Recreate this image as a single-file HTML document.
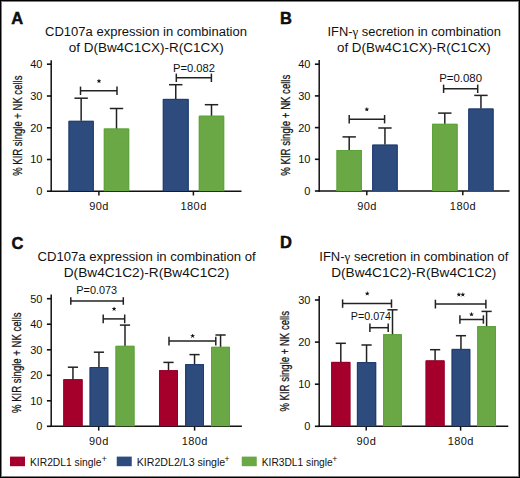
<!DOCTYPE html><html><head><meta charset="utf-8"><style>html,body{margin:0;padding:0;background:#fff}svg{display:block}text{font-family:"Liberation Sans", sans-serif;fill:#111}</style></head><body>
<svg width="520" height="478" viewBox="0 0 520 478">
<rect x="0" y="0" width="520" height="478" fill="#fff"/>
<text x="11.2" y="24.3" font-size="16.5" text-anchor="start" font-weight="bold" stroke="#000" stroke-width="0.45">A</text>
<text x="280" y="24.3" font-size="16.5" text-anchor="start" font-weight="bold" stroke="#000" stroke-width="0.45">B</text>
<text x="11.5" y="248.6" font-size="16.5" text-anchor="start" font-weight="bold" stroke="#000" stroke-width="0.45">C</text>
<text x="280" y="248.1" font-size="16.5" text-anchor="start" font-weight="bold" stroke="#000" stroke-width="0.45">D</text>
<text x="146" y="35.8" font-size="12.5" text-anchor="middle" font-weight="normal" textLength="202" lengthAdjust="spacingAndGlyphs">CD107a expression in combination</text>
<text x="146.2" y="51.8" font-size="12.5" text-anchor="middle" font-weight="normal" textLength="155" lengthAdjust="spacingAndGlyphs">of D(Bw4C1CX)-R(C1CX)</text>
<text x="414.2" y="35.8" font-size="12.5" text-anchor="middle" font-weight="normal" textLength="173.5" lengthAdjust="spacingAndGlyphs">IFN-<tspan font-family="Liberation Serif">γ</tspan> secretion in combination</text>
<text x="413.9" y="51.8" font-size="12.5" text-anchor="middle" font-weight="normal" textLength="153.8" lengthAdjust="spacingAndGlyphs">of D(Bw4C1CX)-R(C1CX)</text>
<text x="146.6" y="260.5" font-size="12.5" text-anchor="middle" font-weight="normal" textLength="218.3" lengthAdjust="spacingAndGlyphs">CD107a expression in combination of</text>
<text x="146.5" y="276.6" font-size="12.5" text-anchor="middle" font-weight="normal" textLength="165.5" lengthAdjust="spacingAndGlyphs">D(Bw4C1C2)-R(Bw4C1C2)</text>
<text x="413.8" y="260.5" font-size="12.5" text-anchor="middle" font-weight="normal" textLength="189" lengthAdjust="spacingAndGlyphs">IFN-<tspan font-family="Liberation Serif">γ</tspan> secretion in combination of</text>
<text x="413.8" y="276.6" font-size="12.5" text-anchor="middle" font-weight="normal" textLength="165.2" lengthAdjust="spacingAndGlyphs">D(Bw4C1C2)-R(Bw4C1C2)</text>
<line x1="51.2" y1="60.3" x2="51.2" y2="191.95" stroke="#111" stroke-width="1.5"/>
<line x1="50.45" y1="191.2" x2="241.5" y2="191.2" stroke="#111" stroke-width="1.5"/>
<line x1="46.900000000000006" y1="64.2" x2="51.2" y2="64.2" stroke="#111" stroke-width="1.6"/>
<text x="42.4" y="68.10000000000001" font-size="11" text-anchor="end" font-weight="normal">40</text>
<line x1="46.900000000000006" y1="96.0" x2="51.2" y2="96.0" stroke="#111" stroke-width="1.6"/>
<text x="42.4" y="99.9" font-size="11" text-anchor="end" font-weight="normal">30</text>
<line x1="46.900000000000006" y1="127.8" x2="51.2" y2="127.8" stroke="#111" stroke-width="1.6"/>
<text x="42.4" y="131.7" font-size="11" text-anchor="end" font-weight="normal">20</text>
<line x1="46.900000000000006" y1="159.5" x2="51.2" y2="159.5" stroke="#111" stroke-width="1.6"/>
<text x="42.4" y="163.4" font-size="11" text-anchor="end" font-weight="normal">10</text>
<line x1="46.900000000000006" y1="191.2" x2="51.2" y2="191.2" stroke="#111" stroke-width="1.6"/>
<text x="42.4" y="195.1" font-size="11" text-anchor="end" font-weight="normal">0</text>
<line x1="98.9" y1="191.2" x2="98.9" y2="195.5" stroke="#111" stroke-width="1.5"/>
<text x="99.10000000000001" y="209.8" font-size="11" text-anchor="middle" font-weight="normal" letter-spacing="0.45">90d</text>
<line x1="193.4" y1="191.2" x2="193.4" y2="195.5" stroke="#111" stroke-width="1.5"/>
<text x="193.6" y="209.8" font-size="11" text-anchor="middle" font-weight="normal" letter-spacing="0.45">180d</text>
<text transform="translate(21.6,125.7) rotate(-90)" x="0" y="0" font-size="12.4" text-anchor="middle" stroke="#111" stroke-width="0.25" textLength="100.2" lengthAdjust="spacingAndGlyphs">% KIR single + NK cells</text>
<rect x="68.5" y="120.8" width="25.30" height="70.40" fill="#2d4b7c"/>
<path d="M69.00 191.20V121.30H93.30V191.20" fill="none" stroke="#1f3c70" stroke-width="1"/>
<rect x="103.8" y="128.5" width="25.40" height="62.70" fill="#69a844"/>
<path d="M104.30 191.20V129.00H128.70V191.20" fill="none" stroke="#5ea23a" stroke-width="1"/>
<rect x="162.8" y="98.9" width="25.90" height="92.30" fill="#2d4b7c"/>
<path d="M163.30 191.20V99.40H188.20V191.20" fill="none" stroke="#1f3c70" stroke-width="1"/>
<rect x="198.8" y="115.7" width="25.40" height="75.50" fill="#69a844"/>
<path d="M199.30 191.20V116.20H223.70V191.20" fill="none" stroke="#5ea23a" stroke-width="1"/>
<line x1="81.15" y1="98.2" x2="81.15" y2="120.8" stroke="#222" stroke-width="1.5"/>
<line x1="74.45" y1="98.2" x2="87.85000000000001" y2="98.2" stroke="#222" stroke-width="1.5"/>
<line x1="116.5" y1="108.5" x2="116.5" y2="128.5" stroke="#222" stroke-width="1.5"/>
<line x1="109.8" y1="108.5" x2="123.2" y2="108.5" stroke="#222" stroke-width="1.5"/>
<line x1="175.75" y1="84.7" x2="175.75" y2="98.9" stroke="#222" stroke-width="1.5"/>
<line x1="169.05" y1="84.7" x2="182.45" y2="84.7" stroke="#222" stroke-width="1.5"/>
<line x1="211.5" y1="104.7" x2="211.5" y2="115.7" stroke="#222" stroke-width="1.5"/>
<line x1="204.8" y1="104.7" x2="218.2" y2="104.7" stroke="#222" stroke-width="1.5"/>
<line x1="80.5" y1="90.8" x2="117" y2="90.8" stroke="#222" stroke-width="1.5"/>
<line x1="80.5" y1="86.6" x2="80.5" y2="95.0" stroke="#222" stroke-width="1.5"/>
<line x1="117" y1="86.6" x2="117" y2="95.0" stroke="#222" stroke-width="1.5"/>
<path d="M99.00 81.20L99.00 79.60M99.00 81.20L100.52 80.71M99.00 81.20L99.94 82.49M99.00 81.20L98.06 82.49M99.00 81.20L97.48 80.71" stroke="#111" stroke-width="0.9" stroke-linecap="round" fill="none"/>
<circle cx="99.0" cy="81.19999999999999" r="1.0" fill="#111"/>
<line x1="176.3" y1="77.8" x2="211.4" y2="77.8" stroke="#222" stroke-width="1.5"/>
<line x1="176.3" y1="73.6" x2="176.3" y2="82.0" stroke="#222" stroke-width="1.5"/>
<line x1="211.4" y1="73.6" x2="211.4" y2="82.0" stroke="#222" stroke-width="1.5"/>
<text x="194" y="71.5" font-size="10.6" text-anchor="middle" font-weight="normal" textLength="41.9" lengthAdjust="spacingAndGlyphs">P=0.082</text>
<line x1="319.2" y1="60.0" x2="319.2" y2="191.75" stroke="#111" stroke-width="1.5"/>
<line x1="318.45" y1="191.0" x2="509.5" y2="191.0" stroke="#111" stroke-width="1.5"/>
<line x1="314.9" y1="64.2" x2="319.2" y2="64.2" stroke="#111" stroke-width="1.6"/>
<text x="310.4" y="68.10000000000001" font-size="11" text-anchor="end" font-weight="normal">40</text>
<line x1="314.9" y1="95.9" x2="319.2" y2="95.9" stroke="#111" stroke-width="1.6"/>
<text x="310.4" y="99.80000000000001" font-size="11" text-anchor="end" font-weight="normal">30</text>
<line x1="314.9" y1="127.6" x2="319.2" y2="127.6" stroke="#111" stroke-width="1.6"/>
<text x="310.4" y="131.5" font-size="11" text-anchor="end" font-weight="normal">20</text>
<line x1="314.9" y1="159.3" x2="319.2" y2="159.3" stroke="#111" stroke-width="1.6"/>
<text x="310.4" y="163.20000000000002" font-size="11" text-anchor="end" font-weight="normal">10</text>
<line x1="314.9" y1="191.0" x2="319.2" y2="191.0" stroke="#111" stroke-width="1.6"/>
<text x="310.4" y="194.9" font-size="11" text-anchor="end" font-weight="normal">0</text>
<line x1="366.8" y1="191.0" x2="366.8" y2="195.3" stroke="#111" stroke-width="1.5"/>
<text x="367.0" y="209.8" font-size="11" text-anchor="middle" font-weight="normal" letter-spacing="0.45">90d</text>
<line x1="462.8" y1="191.0" x2="462.8" y2="195.3" stroke="#111" stroke-width="1.5"/>
<text x="463.0" y="209.8" font-size="11" text-anchor="middle" font-weight="normal" letter-spacing="0.45">180d</text>
<text transform="translate(289.6,125.2) rotate(-90)" x="0" y="0" font-size="12.4" text-anchor="middle" stroke="#111" stroke-width="0.25" textLength="101" lengthAdjust="spacingAndGlyphs">% KIR single + NK cells</text>
<rect x="336.5" y="150" width="25.40" height="41.00" fill="#69a844"/>
<path d="M337.00 191.00V150.50H361.40V191.00" fill="none" stroke="#5ea23a" stroke-width="1"/>
<rect x="372.2" y="144.6" width="25.50" height="46.40" fill="#2d4b7c"/>
<path d="M372.70 191.00V145.10H397.20V191.00" fill="none" stroke="#1f3c70" stroke-width="1"/>
<rect x="432" y="123.8" width="25.60" height="67.20" fill="#69a844"/>
<path d="M432.50 191.00V124.30H457.10V191.00" fill="none" stroke="#5ea23a" stroke-width="1"/>
<rect x="468.3" y="108.5" width="25.30" height="82.50" fill="#2d4b7c"/>
<path d="M468.80 191.00V109.00H493.10V191.00" fill="none" stroke="#1f3c70" stroke-width="1"/>
<line x1="349.2" y1="136.9" x2="349.2" y2="150" stroke="#222" stroke-width="1.5"/>
<line x1="342.5" y1="136.9" x2="355.9" y2="136.9" stroke="#222" stroke-width="1.5"/>
<line x1="384.95" y1="128" x2="384.95" y2="144.6" stroke="#222" stroke-width="1.5"/>
<line x1="378.25" y1="128" x2="391.65" y2="128" stroke="#222" stroke-width="1.5"/>
<line x1="444.8" y1="113.1" x2="444.8" y2="123.8" stroke="#222" stroke-width="1.5"/>
<line x1="438.1" y1="113.1" x2="451.5" y2="113.1" stroke="#222" stroke-width="1.5"/>
<line x1="480.95" y1="95.4" x2="480.95" y2="108.5" stroke="#222" stroke-width="1.5"/>
<line x1="474.25" y1="95.4" x2="487.65" y2="95.4" stroke="#222" stroke-width="1.5"/>
<line x1="349.2" y1="119.2" x2="384.6" y2="119.2" stroke="#222" stroke-width="1.5"/>
<line x1="349.2" y1="115.0" x2="349.2" y2="123.4" stroke="#222" stroke-width="1.5"/>
<line x1="384.6" y1="115.0" x2="384.6" y2="123.4" stroke="#222" stroke-width="1.5"/>
<path d="M366.80 109.45L366.80 107.85M366.80 109.45L368.32 108.96M366.80 109.45L367.74 110.74M366.80 109.45L365.86 110.74M366.80 109.45L365.28 108.96" stroke="#111" stroke-width="0.9" stroke-linecap="round" fill="none"/>
<circle cx="366.8" cy="109.44999999999999" r="1.0" fill="#111"/>
<line x1="443.6" y1="88.8" x2="477.7" y2="88.8" stroke="#222" stroke-width="1.5"/>
<line x1="443.6" y1="84.6" x2="443.6" y2="93.0" stroke="#222" stroke-width="1.5"/>
<line x1="477.7" y1="84.6" x2="477.7" y2="93.0" stroke="#222" stroke-width="1.5"/>
<text x="460.6" y="81.5" font-size="10.6" text-anchor="middle" font-weight="normal" textLength="42.8" lengthAdjust="spacingAndGlyphs">P=0.080</text>
<line x1="51.2" y1="294.6" x2="51.2" y2="427.05" stroke="#111" stroke-width="1.5"/>
<line x1="50.45" y1="426.3" x2="241.9" y2="426.3" stroke="#111" stroke-width="1.5"/>
<line x1="46.900000000000006" y1="298.7" x2="51.2" y2="298.7" stroke="#111" stroke-width="1.6"/>
<text x="42.4" y="302.59999999999997" font-size="11" text-anchor="end" font-weight="normal">50</text>
<line x1="46.900000000000006" y1="324.2" x2="51.2" y2="324.2" stroke="#111" stroke-width="1.6"/>
<text x="42.4" y="328.09999999999997" font-size="11" text-anchor="end" font-weight="normal">40</text>
<line x1="46.900000000000006" y1="349.8" x2="51.2" y2="349.8" stroke="#111" stroke-width="1.6"/>
<text x="42.4" y="353.7" font-size="11" text-anchor="end" font-weight="normal">30</text>
<line x1="46.900000000000006" y1="375.3" x2="51.2" y2="375.3" stroke="#111" stroke-width="1.6"/>
<text x="42.4" y="379.2" font-size="11" text-anchor="end" font-weight="normal">20</text>
<line x1="46.900000000000006" y1="400.8" x2="51.2" y2="400.8" stroke="#111" stroke-width="1.6"/>
<text x="42.4" y="404.7" font-size="11" text-anchor="end" font-weight="normal">10</text>
<line x1="46.900000000000006" y1="426.3" x2="51.2" y2="426.3" stroke="#111" stroke-width="1.6"/>
<text x="42.4" y="430.2" font-size="11" text-anchor="end" font-weight="normal">0</text>
<line x1="98.7" y1="426.3" x2="98.7" y2="430.6" stroke="#111" stroke-width="1.5"/>
<text x="98.9" y="444.6" font-size="11" text-anchor="middle" font-weight="normal" letter-spacing="0.45">90d</text>
<line x1="194.6" y1="426.3" x2="194.6" y2="430.6" stroke="#111" stroke-width="1.5"/>
<text x="194.79999999999998" y="444.6" font-size="11" text-anchor="middle" font-weight="normal" letter-spacing="0.45">180d</text>
<text transform="translate(21.3,362.7) rotate(-90)" x="0" y="0" font-size="12.4" text-anchor="middle" stroke="#111" stroke-width="0.25" textLength="100.6" lengthAdjust="spacingAndGlyphs">% KIR single + NK cells</text>
<rect x="63.3" y="379.2" width="19.30" height="47.10" fill="#a5002c"/>
<path d="M63.80 426.30V379.70H82.10V426.30" fill="none" stroke="#96002a" stroke-width="1"/>
<rect x="89.6" y="367.0" width="18.70" height="59.30" fill="#2d4b7c"/>
<path d="M90.10 426.30V367.50H107.80V426.30" fill="none" stroke="#1f3c70" stroke-width="1"/>
<rect x="115.5" y="345.8" width="19.00" height="80.50" fill="#69a844"/>
<path d="M116.00 426.30V346.30H134.00V426.30" fill="none" stroke="#5ea23a" stroke-width="1"/>
<rect x="159" y="370.2" width="19.00" height="56.10" fill="#a5002c"/>
<path d="M159.50 426.30V370.70H177.50V426.30" fill="none" stroke="#96002a" stroke-width="1"/>
<rect x="185.1" y="364.1" width="18.90" height="62.20" fill="#2d4b7c"/>
<path d="M185.60 426.30V364.60H203.50V426.30" fill="none" stroke="#1f3c70" stroke-width="1"/>
<rect x="211.1" y="346.8" width="18.90" height="79.50" fill="#69a844"/>
<path d="M211.60 426.30V347.30H229.50V426.30" fill="none" stroke="#5ea23a" stroke-width="1"/>
<line x1="72.95" y1="367.2" x2="72.95" y2="379.2" stroke="#222" stroke-width="1.5"/>
<line x1="67.85000000000001" y1="367.2" x2="78.05" y2="367.2" stroke="#222" stroke-width="1.5"/>
<line x1="98.95" y1="352.2" x2="98.95" y2="367.0" stroke="#222" stroke-width="1.5"/>
<line x1="93.85000000000001" y1="352.2" x2="104.05" y2="352.2" stroke="#222" stroke-width="1.5"/>
<line x1="125" y1="325.1" x2="125" y2="345.8" stroke="#222" stroke-width="1.5"/>
<line x1="119.9" y1="325.1" x2="130.1" y2="325.1" stroke="#222" stroke-width="1.5"/>
<line x1="168.5" y1="362.4" x2="168.5" y2="370.2" stroke="#222" stroke-width="1.5"/>
<line x1="163.4" y1="362.4" x2="173.6" y2="362.4" stroke="#222" stroke-width="1.5"/>
<line x1="194.55" y1="354.6" x2="194.55" y2="364.1" stroke="#222" stroke-width="1.5"/>
<line x1="189.45000000000002" y1="354.6" x2="199.65" y2="354.6" stroke="#222" stroke-width="1.5"/>
<line x1="220.55" y1="335" x2="220.55" y2="346.8" stroke="#222" stroke-width="1.5"/>
<line x1="215.45000000000002" y1="335" x2="225.65" y2="335" stroke="#222" stroke-width="1.5"/>
<line x1="70.8" y1="301" x2="123.3" y2="301" stroke="#222" stroke-width="1.5"/>
<line x1="70.8" y1="297.2" x2="70.8" y2="304.8" stroke="#222" stroke-width="1.5"/>
<line x1="123.3" y1="297.2" x2="123.3" y2="304.8" stroke="#222" stroke-width="1.5"/>
<text x="96.7" y="293.6" font-size="10.6" text-anchor="middle" font-weight="normal" textLength="40.8" lengthAdjust="spacingAndGlyphs">P=0.073</text>
<line x1="103.2" y1="318.9" x2="124.7" y2="318.9" stroke="#222" stroke-width="1.5"/>
<line x1="103.2" y1="314.5" x2="103.2" y2="323.29999999999995" stroke="#222" stroke-width="1.5"/>
<line x1="124.7" y1="314.5" x2="124.7" y2="323.29999999999995" stroke="#222" stroke-width="1.5"/>
<path d="M114.10 309.05L114.10 307.45M114.10 309.05L115.62 308.56M114.10 309.05L115.04 310.34M114.10 309.05L113.16 310.34M114.10 309.05L112.58 308.56" stroke="#111" stroke-width="0.9" stroke-linecap="round" fill="none"/>
<circle cx="114.1" cy="309.05" r="1.0" fill="#111"/>
<line x1="169" y1="341.1" x2="215.8" y2="341.1" stroke="#222" stroke-width="1.5"/>
<line x1="169" y1="336.70000000000005" x2="169" y2="345.5" stroke="#222" stroke-width="1.5"/>
<line x1="215.8" y1="336.70000000000005" x2="215.8" y2="345.5" stroke="#222" stroke-width="1.5"/>
<path d="M192.60 336.05L192.60 334.45M192.60 336.05L194.12 335.56M192.60 336.05L193.54 337.34M192.60 336.05L191.66 337.34M192.60 336.05L191.08 335.56" stroke="#111" stroke-width="0.9" stroke-linecap="round" fill="none"/>
<circle cx="192.6" cy="336.05" r="1.0" fill="#111"/>
<line x1="319.2" y1="296.0" x2="319.2" y2="427.05" stroke="#111" stroke-width="1.5"/>
<line x1="318.45" y1="426.3" x2="508.3" y2="426.3" stroke="#111" stroke-width="1.5"/>
<line x1="314.9" y1="300.0" x2="319.2" y2="300.0" stroke="#111" stroke-width="1.6"/>
<text x="310.4" y="303.9" font-size="11" text-anchor="end" font-weight="normal">30</text>
<line x1="314.9" y1="342.1" x2="319.2" y2="342.1" stroke="#111" stroke-width="1.6"/>
<text x="310.4" y="346.0" font-size="11" text-anchor="end" font-weight="normal">20</text>
<line x1="314.9" y1="384.2" x2="319.2" y2="384.2" stroke="#111" stroke-width="1.6"/>
<text x="310.4" y="388.09999999999997" font-size="11" text-anchor="end" font-weight="normal">10</text>
<line x1="314.9" y1="426.3" x2="319.2" y2="426.3" stroke="#111" stroke-width="1.6"/>
<text x="310.4" y="430.2" font-size="11" text-anchor="end" font-weight="normal">0</text>
<line x1="366.2" y1="426.3" x2="366.2" y2="430.6" stroke="#111" stroke-width="1.5"/>
<text x="366.4" y="444.6" font-size="11" text-anchor="middle" font-weight="normal" letter-spacing="0.45">90d</text>
<line x1="460.6" y1="426.3" x2="460.6" y2="430.6" stroke="#111" stroke-width="1.5"/>
<text x="460.8" y="444.6" font-size="11" text-anchor="middle" font-weight="normal" letter-spacing="0.45">180d</text>
<text transform="translate(289.1,361.3) rotate(-90)" x="0" y="0" font-size="12.4" text-anchor="middle" stroke="#111" stroke-width="0.25" textLength="100.6" lengthAdjust="spacingAndGlyphs">% KIR single + NK cells</text>
<rect x="331.2" y="361.9" width="19.20" height="64.40" fill="#a5002c"/>
<path d="M331.70 426.30V362.40H349.90V426.30" fill="none" stroke="#96002a" stroke-width="1"/>
<rect x="356.9" y="362.1" width="19.30" height="64.20" fill="#2d4b7c"/>
<path d="M357.40 426.30V362.60H375.70V426.30" fill="none" stroke="#1f3c70" stroke-width="1"/>
<rect x="383.1" y="334.2" width="18.80" height="92.10" fill="#69a844"/>
<path d="M383.60 426.30V334.70H401.40V426.30" fill="none" stroke="#5ea23a" stroke-width="1"/>
<rect x="425.6" y="360.4" width="19.00" height="65.90" fill="#a5002c"/>
<path d="M426.10 426.30V360.90H444.10V426.30" fill="none" stroke="#96002a" stroke-width="1"/>
<rect x="451.6" y="348.9" width="18.70" height="77.40" fill="#2d4b7c"/>
<path d="M452.10 426.30V349.40H469.80V426.30" fill="none" stroke="#1f3c70" stroke-width="1"/>
<rect x="477.2" y="326.1" width="18.80" height="100.20" fill="#69a844"/>
<path d="M477.70 426.30V326.60H495.50V426.30" fill="none" stroke="#5ea23a" stroke-width="1"/>
<line x1="340.8" y1="343.3" x2="340.8" y2="361.9" stroke="#222" stroke-width="1.5"/>
<line x1="335.7" y1="343.3" x2="345.90000000000003" y2="343.3" stroke="#222" stroke-width="1.5"/>
<line x1="366.55" y1="345" x2="366.55" y2="362.1" stroke="#222" stroke-width="1.5"/>
<line x1="361.45" y1="345" x2="371.65000000000003" y2="345" stroke="#222" stroke-width="1.5"/>
<line x1="392.5" y1="309.8" x2="392.5" y2="334.2" stroke="#222" stroke-width="1.5"/>
<line x1="387.4" y1="309.8" x2="397.6" y2="309.8" stroke="#222" stroke-width="1.5"/>
<line x1="435.1" y1="349.7" x2="435.1" y2="360.4" stroke="#222" stroke-width="1.5"/>
<line x1="430.0" y1="349.7" x2="440.20000000000005" y2="349.7" stroke="#222" stroke-width="1.5"/>
<line x1="460.95" y1="335.7" x2="460.95" y2="348.9" stroke="#222" stroke-width="1.5"/>
<line x1="455.84999999999997" y1="335.7" x2="466.05" y2="335.7" stroke="#222" stroke-width="1.5"/>
<line x1="486.6" y1="311.4" x2="486.6" y2="326.1" stroke="#222" stroke-width="1.5"/>
<line x1="481.5" y1="311.4" x2="491.70000000000005" y2="311.4" stroke="#222" stroke-width="1.5"/>
<line x1="342.6" y1="303.6" x2="391.5" y2="303.6" stroke="#222" stroke-width="1.5"/>
<line x1="342.6" y1="299.40000000000003" x2="342.6" y2="307.8" stroke="#222" stroke-width="1.5"/>
<line x1="391.5" y1="299.40000000000003" x2="391.5" y2="307.8" stroke="#222" stroke-width="1.5"/>
<path d="M367.30 293.65L367.30 292.05M367.30 293.65L368.82 293.16M367.30 293.65L368.24 294.94M367.30 293.65L366.36 294.94M367.30 293.65L365.78 293.16" stroke="#111" stroke-width="0.9" stroke-linecap="round" fill="none"/>
<circle cx="367.3" cy="293.65000000000003" r="1.0" fill="#111"/>
<text x="370.9" y="320.1" font-size="10.6" text-anchor="middle" font-weight="normal" textLength="40.3" lengthAdjust="spacingAndGlyphs">P=0.074</text>
<line x1="369.9" y1="327.7" x2="388.2" y2="327.7" stroke="#222" stroke-width="1.5"/>
<line x1="369.9" y1="323.5" x2="369.9" y2="331.9" stroke="#222" stroke-width="1.5"/>
<line x1="388.2" y1="323.5" x2="388.2" y2="331.9" stroke="#222" stroke-width="1.5"/>
<line x1="435.4" y1="304.1" x2="485.9" y2="304.1" stroke="#222" stroke-width="1.5"/>
<line x1="435.4" y1="299.70000000000005" x2="435.4" y2="308.5" stroke="#222" stroke-width="1.5"/>
<line x1="485.9" y1="299.70000000000005" x2="485.9" y2="308.5" stroke="#222" stroke-width="1.5"/>
<path d="M458.85 294.65L458.85 293.05M458.85 294.65L460.37 294.16M458.85 294.65L459.79 295.94M458.85 294.65L457.91 295.94M458.85 294.65L457.33 294.16" stroke="#111" stroke-width="0.9" stroke-linecap="round" fill="none"/>
<circle cx="458.85" cy="294.65000000000003" r="1.0" fill="#111"/>
<path d="M462.80 294.65L462.80 293.05M462.80 294.65L464.32 294.16M462.80 294.65L463.74 295.94M462.80 294.65L461.86 295.94M462.80 294.65L461.28 294.16" stroke="#111" stroke-width="0.9" stroke-linecap="round" fill="none"/>
<circle cx="462.8" cy="294.65000000000003" r="1.0" fill="#111"/>
<line x1="459.9" y1="319.5" x2="483.4" y2="319.5" stroke="#222" stroke-width="1.5"/>
<line x1="459.9" y1="315.3" x2="459.9" y2="323.7" stroke="#222" stroke-width="1.5"/>
<line x1="483.4" y1="315.3" x2="483.4" y2="323.7" stroke="#222" stroke-width="1.5"/>
<path d="M471.50 314.45L471.50 312.85M471.50 314.45L473.02 313.96M471.50 314.45L472.44 315.74M471.50 314.45L470.56 315.74M471.50 314.45L469.98 313.96" stroke="#111" stroke-width="0.9" stroke-linecap="round" fill="none"/>
<circle cx="471.5" cy="314.45000000000005" r="1.0" fill="#111"/>
<rect x="10" y="456.6" width="15" height="9.6" fill="#a5002c"/>
<text x="30" y="465.7" font-size="10.5" text-anchor="start" font-weight="normal" textLength="71.5" lengthAdjust="spacingAndGlyphs">KIR2DL1 single</text>
<text x="101.8" y="461.8" font-size="8.6" text-anchor="start" font-weight="normal">+</text>
<rect x="116.75" y="456.6" width="15" height="9.6" fill="#2d4b7c"/>
<text x="136.75" y="465.7" font-size="10.5" text-anchor="start" font-weight="normal" textLength="88.5" lengthAdjust="spacingAndGlyphs">KIR2DL2/L3 single</text>
<text x="224.6" y="461.8" font-size="8.6" text-anchor="start" font-weight="normal">+</text>
<rect x="241.75" y="456.6" width="15" height="9.6" fill="#69a844"/>
<text x="261.75" y="465.7" font-size="10.5" text-anchor="start" font-weight="normal" textLength="71" lengthAdjust="spacingAndGlyphs">KIR3DL1 single</text>
<text x="332.2" y="461.8" font-size="8.6" text-anchor="start" font-weight="normal">+</text>
<rect x="0.5" y="0.5" width="519" height="477" fill="none" stroke="#000" stroke-width="1"/>
<rect x="1.5" y="1.5" width="517" height="475" fill="none" stroke="#000" stroke-width="1" stroke-opacity="0.5"/>
</svg></body></html>
